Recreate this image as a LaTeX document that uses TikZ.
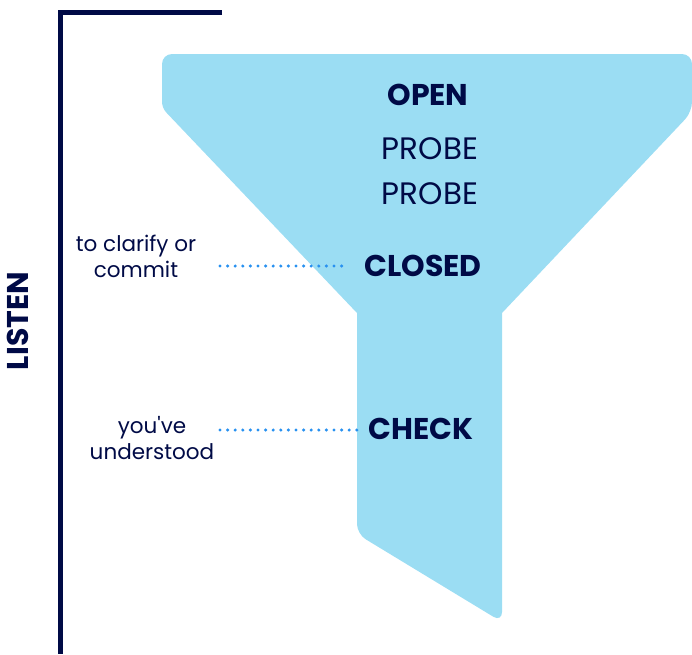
\documentclass[tikz,border=0pt]{standalone}
\usepackage{fontspec}
\setmainfont{Poppins}
\definecolor{funnelblue}{RGB}{155,221,243}
\definecolor{navy}{RGB}{0,10,70}
\definecolor{dotblue}{RGB}{40,145,240}
\tikzset{
  big/.style={text=navy, font=\fontsize{31}{34}\selectfont, inner sep=0pt, anchor=center},
  bigb/.style={big, font=\fontsize{30}{34}\selectfont\bfseries},
  small/.style={text=navy, font=\fontsize{21.5}{26}\selectfont, align=center, inner sep=0pt},
  dotline/.style={dotblue, line width=3.4pt, dash pattern=on 0pt off 7.6pt, line cap=round},
  bracket/.style={navy, line width=5pt}
}
\begin{document}
\begin{tikzpicture}[x=1pt,y=-1pt]
\useasboundingbox (0,0) rectangle (692,654);
% funnel
\fill[funnelblue] (400,54) [rounded corners=10pt] -- (692,54) -- (692,112)
  [sharp corners] -- (502,313) [rounded corners=10pt] -- (502,622) -- (357,534)
  [sharp corners] -- (357,313) [rounded corners=6pt] -- (162,108) [rounded corners=10pt] -- (162,54) -- cycle;
% bracket
\coordinate (bt) at (222,12.5);
\coordinate (bc) at (60.5,12.5);
\coordinate (bb) at (60.5,654);
\draw[bracket] (bt) -- (bc) -- (bb);
\node[bigb, rotate=90] (listen) at (18,321) {LISTEN};
% texts
\node[bigb] (open) at (428,95) {OPEN};
\node[big] (probe1) at (430,149) {PROBE};
\node[big] (probe2) at (430,194) {PROBE};
\node[bigb] (closed) at (423,266) {CLOSED};
\node[bigb] (check) at (421,429) {CHECK};
\node[small] (clarify) at (136,256) {to clarify or\\commit};
\node[small] (underst) at (152,438) {you\textquotesingle ve\\understood};
% dotted connectors
\coordinate (d1s) at (220,266);
\coordinate (d1e) at (348,266);
\coordinate (d2s) at (220,430);
\coordinate (d2e) at (357,430);
\draw[dotline] (d1s) -- (d1e);
\draw[dotline] (d2s) -- (d2e);
\end{tikzpicture}
\end{document}
